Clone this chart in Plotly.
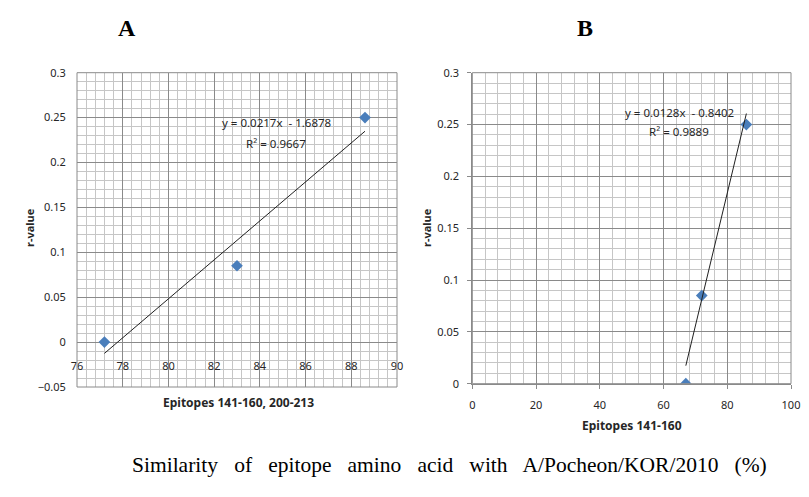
""" Two scatter panels with linear trendlines (r-value vs epitope similarity) """
import plotly.graph_objects as go

# Panel A: epitopes 141-160, 200-213
sim_a = [77.2, 83.0, 88.6]
r_a = [0.0, 0.085, 0.25]
slope_a, icpt_a = 0.0217, -1.6878
r2_a = 0.9667

# Panel B: epitopes 141-160
sim_b = [67, 72, 86]
r_b = [0.0, 0.085, 0.25]
slope_b, icpt_b = 0.0128, -0.8402
r2_b = 0.9889

W, H = 809, 497
MAJOR = "#8a8a8a"
MINOR = "#c6c6c6"
TXT = "#262626"
FONT = "Noto Sans"
BLUE = "#4a7ebb"


def px_x(p):
    return p / W


def px_y(p):
    return 1 - p / H


fig = go.Figure()

# markers
fig.add_trace(go.Scatter(x=sim_a, y=r_a, mode="markers", xaxis="x", yaxis="y",
                         marker=dict(symbol="diamond", size=9, color=BLUE)))
fig.add_trace(go.Scatter(x=sim_b, y=r_b, mode="markers", xaxis="x2", yaxis="y2",
                         marker=dict(symbol="diamond", size=9, color=BLUE)))

# trendlines from the fitted equations, spanning the data
ta = [min(sim_a), max(sim_a)]
tb = [min(sim_b), max(sim_b)]
fig.add_trace(go.Scatter(x=ta, y=[slope_a * v + icpt_a for v in ta], mode="lines",
                         xaxis="x", yaxis="y", line=dict(color="#202020", width=1)))
fig.add_trace(go.Scatter(x=tb, y=[slope_b * v + icpt_b for v in tb], mode="lines",
                         xaxis="x2", yaxis="y2", line=dict(color="#202020", width=1)))

# domains (pixel based)
dom_xa = [px_x(77), px_x(397)]
dom_ya = [px_y(387), px_y(72.7)]
dom_xb = [px_x(472.3), px_x(791)]
dom_yb = [px_y(383.7), px_y(72.7)]
zero_a = dom_ya[0] + (0.05 / 0.35) * (dom_ya[1] - dom_ya[0])

tickfont = dict(family=FONT, size=11, color=TXT)

fig.update_layout(
    width=W, height=H, showlegend=False, autosize=False,
    margin=dict(l=0, r=0, t=0, b=0, pad=0),
    paper_bgcolor="white", plot_bgcolor="white",
    xaxis=dict(domain=dom_xa, range=[76, 90], dtick=2, tick0=76,
               anchor="free", position=zero_a, showline=False, zeroline=False,
               gridcolor=MAJOR, gridwidth=1, ticks="outside", ticklen=6,
               ticklabelstandoff=8,
               tickcolor="rgba(0,0,0,0)", tickfont=tickfont, automargin=False,
               minor=dict(dtick=0.4, tick0=76, showgrid=True, gridcolor=MINOR)),
    yaxis=dict(domain=dom_ya, range=[-0.05, 0.3], dtick=0.05, tick0=0,
               anchor="x", showline=False, zeroline=False,
               gridcolor=MAJOR, ticks="outside", ticklen=6, automargin=False,
               ticklabelstandoff=2,
               tickcolor="rgba(0,0,0,0)", tickfont=tickfont,
               minor=dict(dtick=0.01, showgrid=True, gridcolor=MINOR)),
    xaxis2=dict(domain=dom_xb, range=[0, 100], dtick=20, tick0=0,
                anchor="y2", showline=True, linecolor=MAJOR, zeroline=False,
                gridcolor=MAJOR, ticks="outside", ticklen=4, tickcolor=MAJOR,
                ticklabelstandoff=7,
                tickfont=tickfont, automargin=False,
                minor=dict(dtick=4, showgrid=True, gridcolor=MINOR)),
    yaxis2=dict(domain=dom_yb, range=[0, 0.3], dtick=0.05, tick0=0,
                anchor="x2", showline=True, linecolor=MAJOR, zeroline=False,
                gridcolor=MAJOR, ticks="outside", ticklen=4, tickcolor=MAJOR,
                ticklabelstandoff=6,
                tickfont=tickfont, automargin=False,
                minor=dict(dtick=0.01, showgrid=True, gridcolor=MINOR)),
)

# plot-area frames
for xr, yr in (("x", "y"), ("x2", "y2")):
    fig.add_shape(type="rect", xref=xr + " domain", yref=yr + " domain",
                  x0=0, x1=1, y0=0, y1=1, line=dict(color=MAJOR, width=1))


def note(text, x, y, size=11, bold=False, family=FONT, angle=0, color=TXT):
    fig.add_annotation(text=f"<b>{text}</b>" if bold else text,
                       x=px_x(x), y=px_y(y), xref="paper", yref="paper",
                       xanchor="center", yanchor="middle",
                       showarrow=False, textangle=angle,
                       font=dict(family=family, size=size, color=color))


# axis titles
note("r-value", 29, 228, bold=True, angle=-90)
note("Epitopes 141-160, 200-213", 238, 402, size=12, bold=True)
note("r-value", 426, 228, bold=True, angle=-90)
note("Epitopes 141-160", 632, 425, size=12, bold=True)

# trendline equations
note(f"y = {slope_a}x  - {abs(icpt_a)}", 276, 123, size=11.5)
note(f"R² = {r2_a}", 276, 143, size=11.5)
note(f"y = {slope_b}x  - {abs(icpt_b)}", 679, 112, size=11.5)
note(f"R² = {r2_b}", 679, 131, size=11.5)

# panel letters and caption
note("A", 127, 28, size=24, bold=True, family="Liberation Serif", color="black")
note("B", 585, 28, size=24, bold=True, family="Liberation Serif", color="black")
note("Similarity&nbsp;&nbsp; of&nbsp;&nbsp; epitope&nbsp;&nbsp; amino&nbsp;&nbsp; "
     "acid&nbsp;&nbsp; with&nbsp;&nbsp; A/Pocheon/KOR/2010&nbsp;&nbsp; (%)",
     449, 465, size=21.5, family="Liberation Serif", color="black")

fig.write_html("out.html", config={"displayModeBar": False},
               post_script="document.body.style.margin='0';")
